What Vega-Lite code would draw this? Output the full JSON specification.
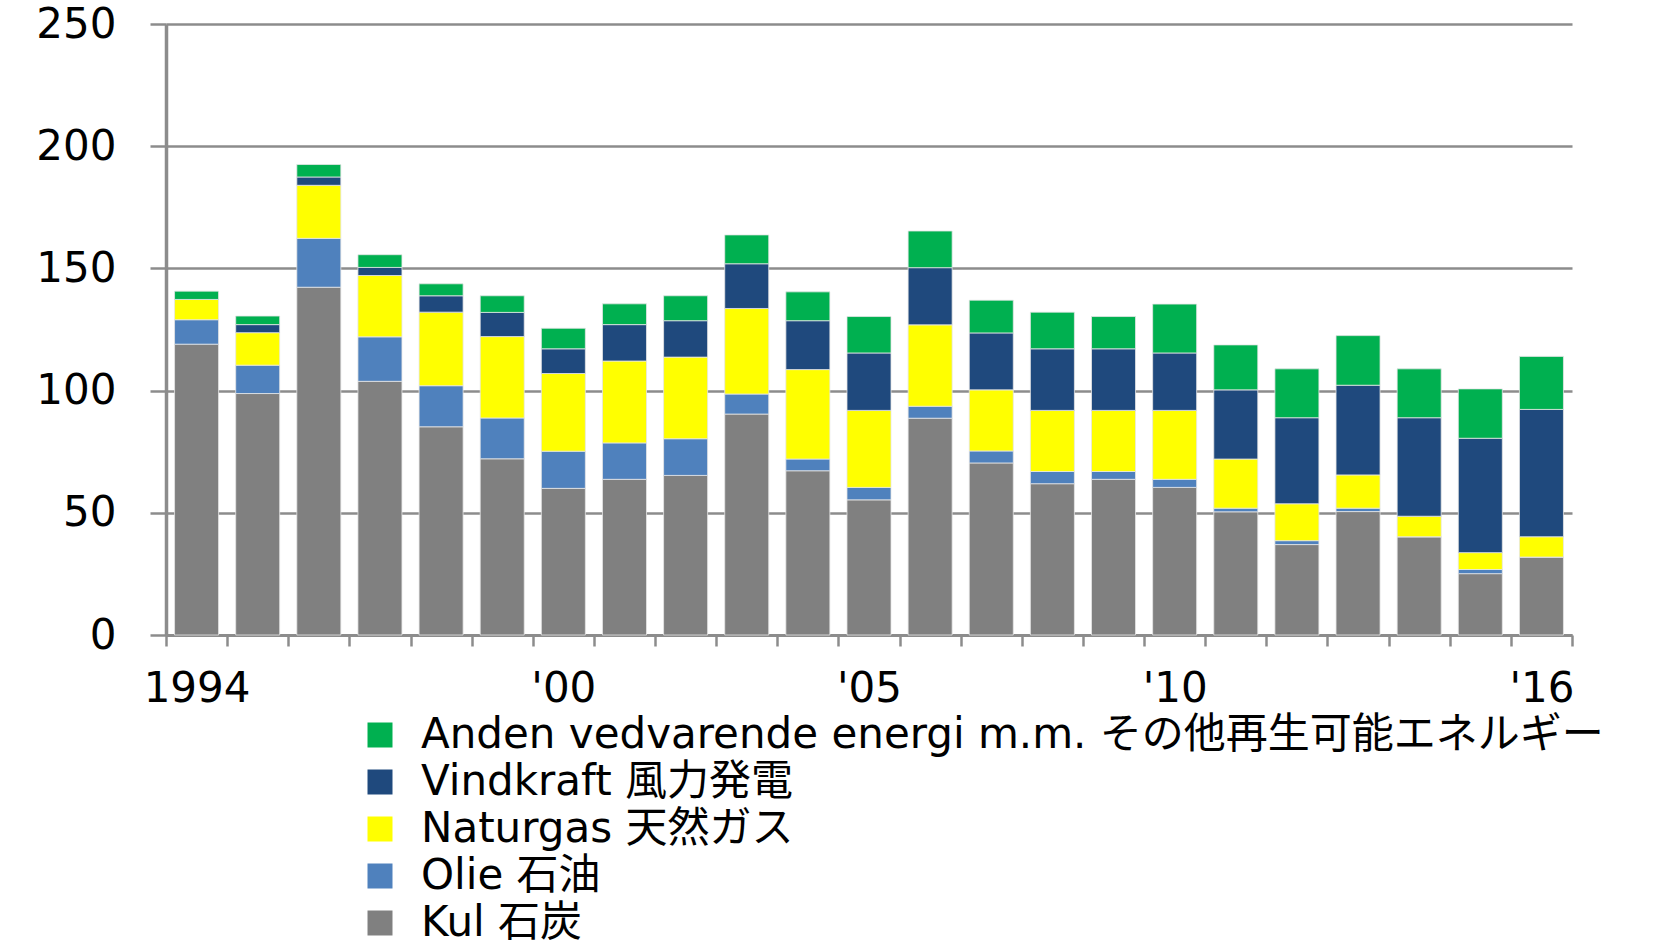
{
  "$schema": "https://vega.github.io/schema/vega-lite/v6.json",
  "autosize": {"type": "none"},
  "width": 1406,
  "height": 611,
  "padding": {"left": 166, "top": 24, "right": 108, "bottom": 316},
  "background": "white",
  "data": {
    "values": [
      {"year": 1994, "Kul": 119.0, "Olie": 10.0, "Naturgas": 8.3, "Vindkraft": 0.0, "Anden": 3.4},
      {"year": 1995, "Kul": 98.8, "Olie": 11.6, "Naturgas": 13.3, "Vindkraft": 3.3, "Anden": 3.5},
      {"year": 1996, "Kul": 142.3, "Olie": 20.0, "Naturgas": 21.7, "Vindkraft": 3.4, "Anden": 5.1},
      {"year": 1997, "Kul": 103.8, "Olie": 18.2, "Naturgas": 25.1, "Vindkraft": 3.3, "Anden": 5.2},
      {"year": 1998, "Kul": 85.2, "Olie": 16.8, "Naturgas": 30.1, "Vindkraft": 6.7, "Anden": 4.9},
      {"year": 1999, "Kul": 72.1, "Olie": 16.7, "Naturgas": 33.3, "Vindkraft": 9.9, "Anden": 6.8},
      {"year": 2000, "Kul": 60.0, "Olie": 15.2, "Naturgas": 31.8, "Vindkraft": 10.1, "Anden": 8.4},
      {"year": 2001, "Kul": 63.7, "Olie": 14.9, "Naturgas": 33.5, "Vindkraft": 14.9, "Anden": 8.5},
      {"year": 2002, "Kul": 65.3, "Olie": 15.0, "Naturgas": 33.4, "Vindkraft": 14.9, "Anden": 10.2},
      {"year": 2003, "Kul": 90.4, "Olie": 8.2, "Naturgas": 35.0, "Vindkraft": 18.3, "Anden": 11.8},
      {"year": 2004, "Kul": 67.2, "Olie": 4.8, "Naturgas": 36.6, "Vindkraft": 20.0, "Anden": 11.8},
      {"year": 2005, "Kul": 55.3, "Olie": 5.1, "Naturgas": 31.5, "Vindkraft": 23.5, "Anden": 14.9},
      {"year": 2006, "Kul": 88.7, "Olie": 4.9, "Naturgas": 33.3, "Vindkraft": 23.4, "Anden": 15.0},
      {"year": 2007, "Kul": 70.4, "Olie": 4.9, "Naturgas": 25.0, "Vindkraft": 23.3, "Anden": 13.4},
      {"year": 2008, "Kul": 61.9, "Olie": 5.0, "Naturgas": 25.0, "Vindkraft": 25.2, "Anden": 15.0},
      {"year": 2009, "Kul": 63.7, "Olie": 3.2, "Naturgas": 25.0, "Vindkraft": 25.2, "Anden": 13.2},
      {"year": 2010, "Kul": 60.4, "Olie": 3.3, "Naturgas": 28.2, "Vindkraft": 23.5, "Anden": 20.0},
      {"year": 2011, "Kul": 50.4, "Olie": 1.5, "Naturgas": 20.1, "Vindkraft": 28.3, "Anden": 18.4},
      {"year": 2012, "Kul": 37.0, "Olie": 1.6, "Naturgas": 15.1, "Vindkraft": 35.2, "Anden": 20.0},
      {"year": 2013, "Kul": 50.5, "Olie": 1.4, "Naturgas": 13.6, "Vindkraft": 36.7, "Anden": 20.3},
      {"year": 2014, "Kul": 40.2, "Olie": 0.0, "Naturgas": 8.4, "Vindkraft": 40.3, "Anden": 20.0},
      {"year": 2015, "Kul": 25.1, "Olie": 1.7, "Naturgas": 6.9, "Vindkraft": 46.8, "Anden": 20.2},
      {"year": 2016, "Kul": 31.9, "Olie": 0.0, "Naturgas": 8.3, "Vindkraft": 52.1, "Anden": 21.7}
    ]
  },
  "transform": [
    {"fold": ["Kul", "Olie", "Naturgas", "Vindkraft", "Anden"], "as": ["source", "value"]},
    {"calculate": "indexof(['Kul','Olie','Naturgas','Vindkraft','Anden'], datum.source)", "as": "stackorder"}
  ],
  "mark": {"type": "bar", "width": {"band": 0.72}, "stroke": "#e6e6e6", "strokeWidth": 0.8},
  "encoding": {
    "x": {
      "field": "year",
      "type": "ordinal",
      "scale": {"paddingInner": 0, "paddingOuter": 0},
      "axis": {
        "title": null,
        "labelAngle": 0,
        "labelOverlap": false,
        "labelExpr": "datum.value == 1994 ? '1994' : datum.value == 2000 ? \"'00\" : datum.value == 2005 ? \"'05\" : datum.value == 2010 ? \"'10\" : datum.value == 2016 ? \"'16\" : ''",
        "labelFont": "DejaVu Sans",
        "labelFontSize": 42,
        "labelColor": "#000000",
        "labelPadding": 22,
        "tickBand": "extent",
        "tickSize": 11,
        "tickWidth": 2.5,
        "tickColor": "#8c8c8c",
        "domainColor": "#8c8c8c",
        "domainWidth": 3,
        "grid": false
      }
    },
    "y": {
      "field": "value",
      "type": "quantitative",
      "stack": "zero",
      "scale": {"domain": [0, 250], "nice": false},
      "axis": {
        "title": null,
        "values": [0, 50, 100, 150, 200, 250],
        "labelFont": "DejaVu Sans",
        "labelFontSize": 42,
        "labelColor": "#000000",
        "labelPadding": 34,
        "tickSize": 16,
        "tickWidth": 2.5,
        "tickColor": "#8c8c8c",
        "domainColor": "#8c8c8c",
        "domainWidth": 3.5,
        "grid": true,
        "gridColor": "#8c8c8c",
        "gridWidth": 2.5
      }
    },
    "color": {
      "field": "source",
      "type": "nominal",
      "scale": {
        "domain": ["Anden", "Vindkraft", "Naturgas", "Olie", "Kul"],
        "range": ["#00B050", "#1F497D", "#FFFF00", "#4F81BD", "#808080"]
      },
      "legend": {
        "title": null,
        "orient": "none",
        "legendX": 193,
        "legendY": 690,
        "direction": "vertical",
        "padding": 0,
        "symbolType": "square",
        "symbolSize": 625,
        "symbolStrokeWidth": 0,
        "symbolOpacity": 1,
        "labelFont": "DejaVu Sans, Noto Sans CJK JP",
        "labelFontSize": 42,
        "labelColor": "#000000",
        "labelLimit": 1500,
        "labelOffset": 20,
        "rowPadding": 5,
        "labelExpr": "datum.value == 'Anden' ? 'Anden vedvarende energi m.m. その他再生可能エネルギー' : datum.value == 'Vindkraft' ? 'Vindkraft 風力発電' : datum.value == 'Naturgas' ? 'Naturgas 天然ガス' : datum.value == 'Olie' ? 'Olie 石油' : 'Kul 石炭'"
      }
    },
    "order": {"field": "stackorder", "type": "quantitative"}
  },
  "config": {"view": {"stroke": null}}
}
